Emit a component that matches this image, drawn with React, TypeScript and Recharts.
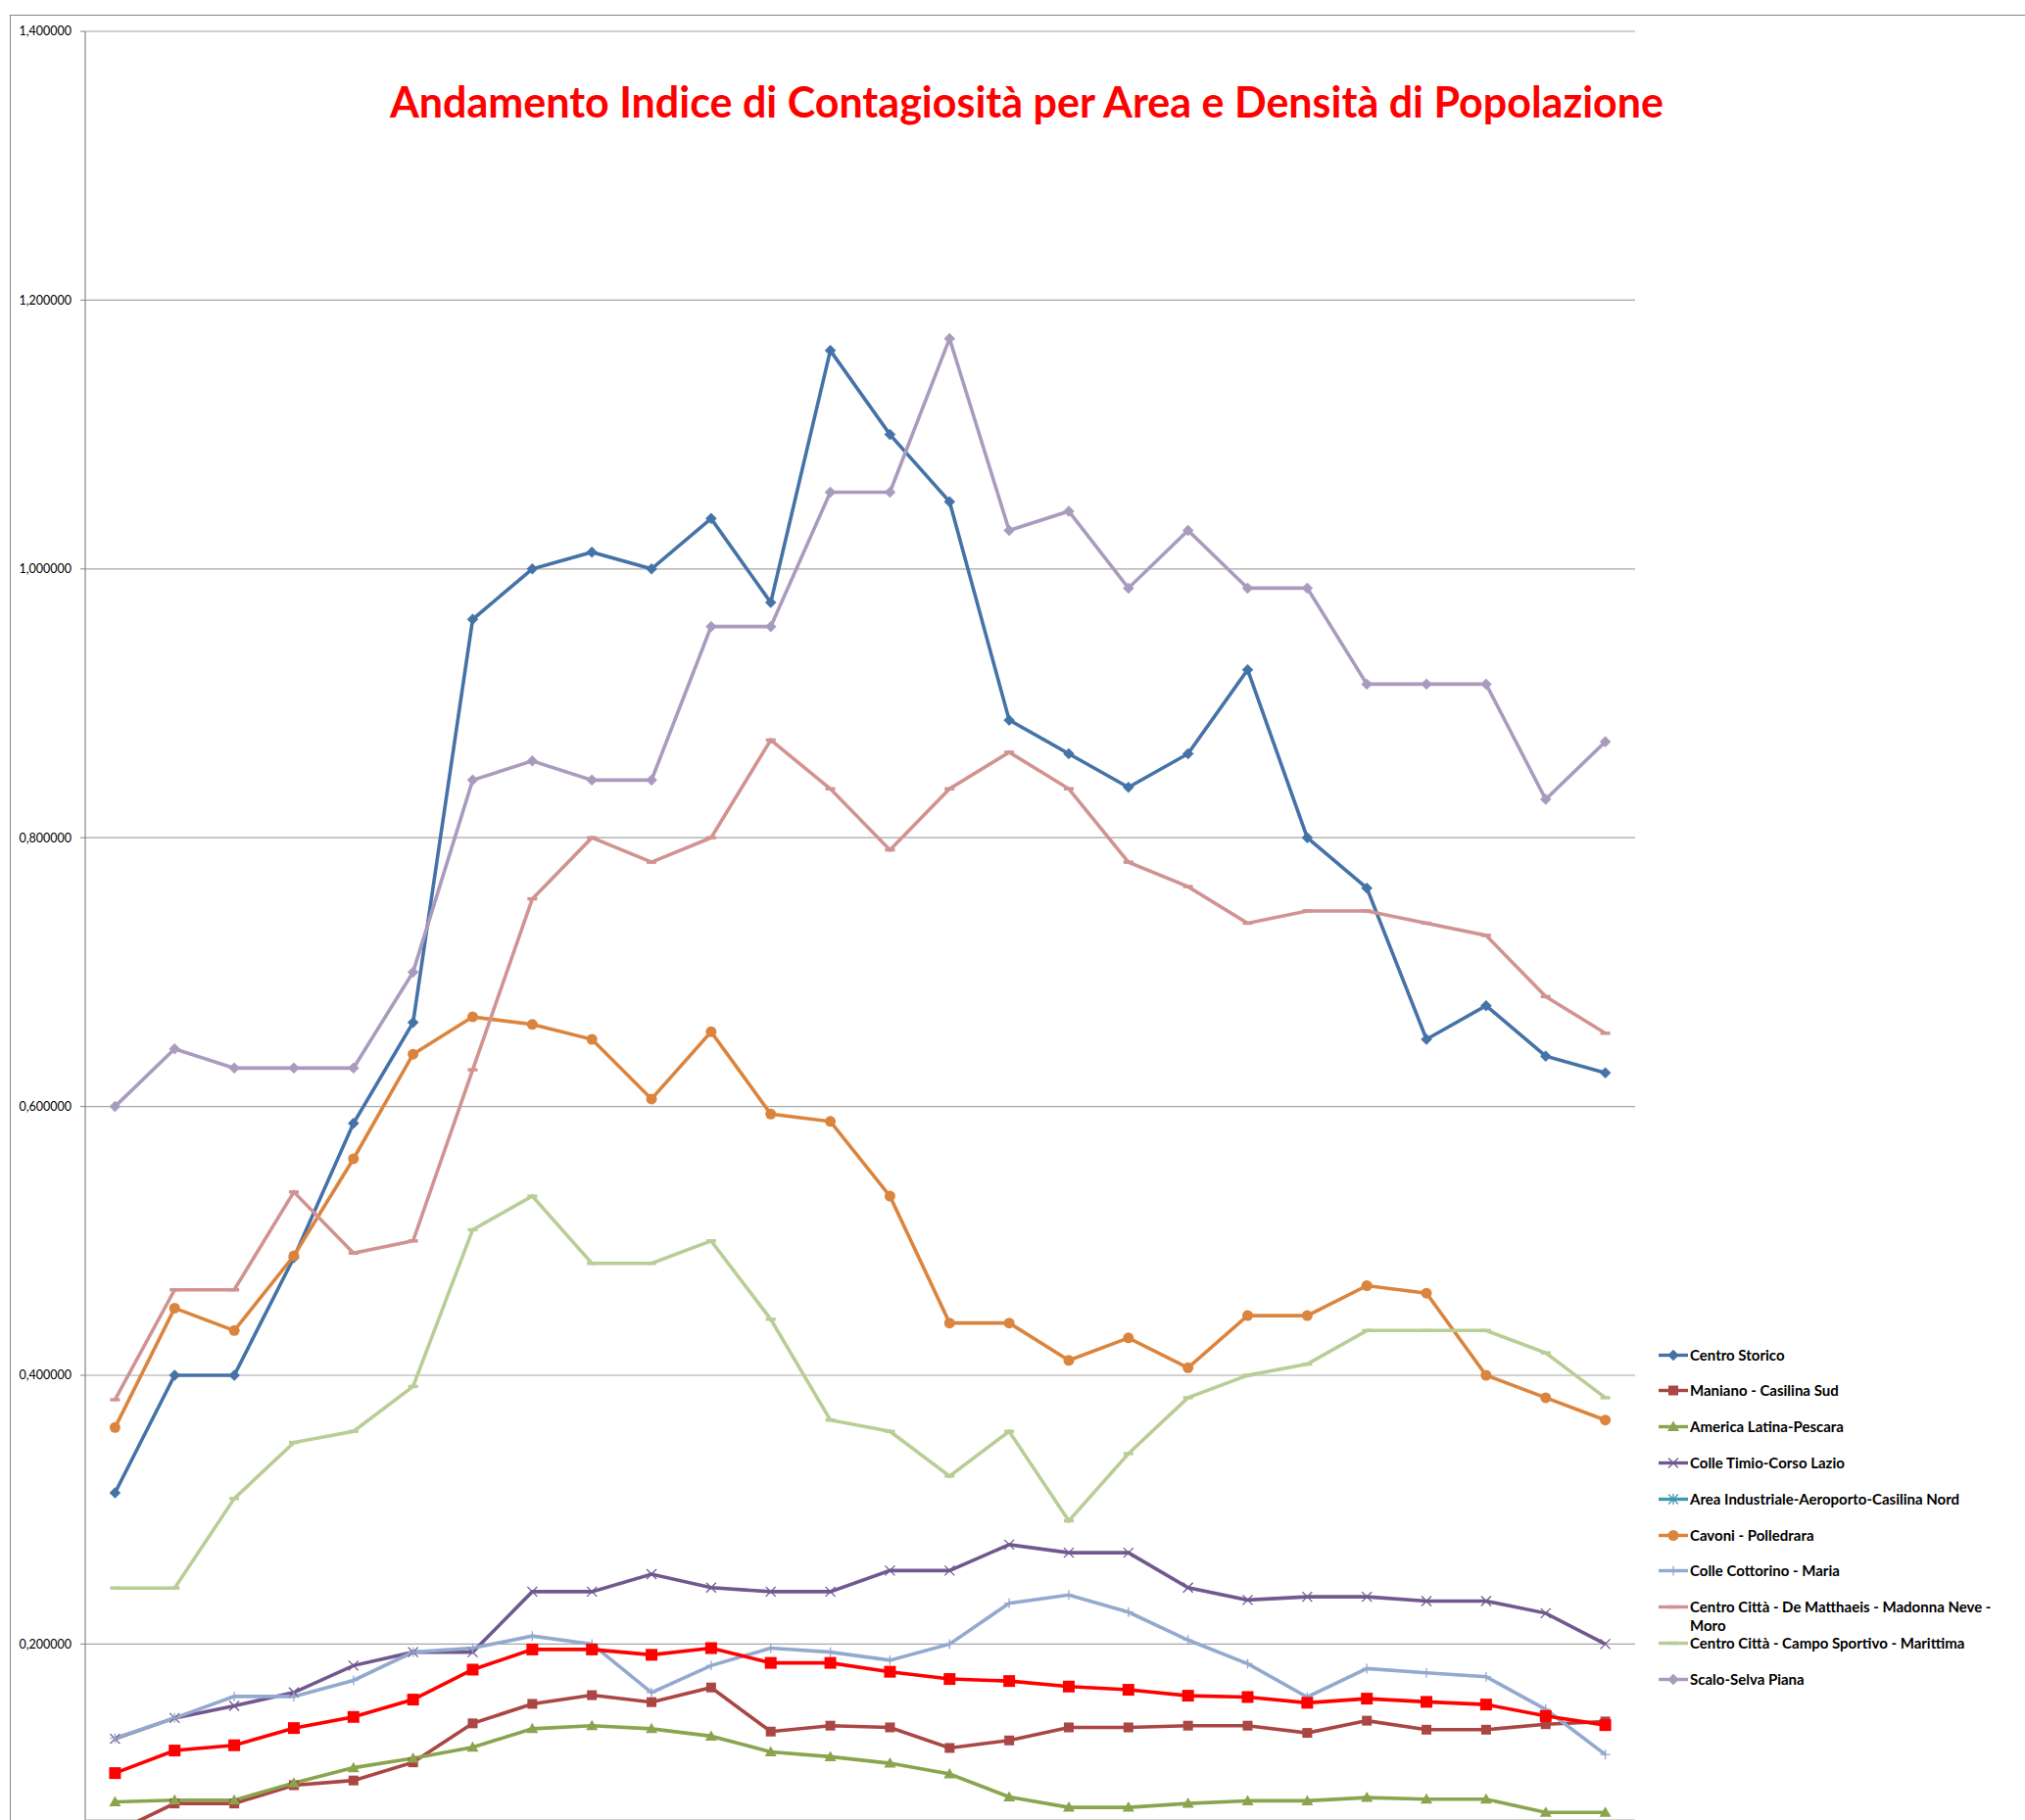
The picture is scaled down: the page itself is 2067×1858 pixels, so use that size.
import React from 'react';
import { LineChart, Line, XAxis, YAxis, CartesianGrid } from 'recharts';

const categories = ['1','2','3','4','5','6','7','8','9','10','11','12','13','14','15','16','17','18','19','20','21','22','23','24','25','26'];

const centroStorico = [0.3125, 0.4, 0.4, 0.4875, 0.5875, 0.6625, 0.9625, 1.0, 1.0125, 1.0, 1.0375, 0.975, 1.1625, 1.1, 1.05, 0.8875, 0.8625, 0.8375, 0.8625, 0.925, 0.8, 0.7625, 0.65, 0.675, 0.6375, 0.625];
const manianoCasilinaSud = [0.06, 0.0814, 0.0814, 0.095, 0.0985, 0.112, 0.141, 0.1555, 0.162, 0.1568, 0.1677, 0.1349, 0.1393, 0.138, 0.1227, 0.1283, 0.138, 0.138, 0.1393, 0.1393, 0.1339, 0.143, 0.1363, 0.1363, 0.1404, 0.1424];
const americaLatina = [0.0826, 0.0839, 0.0839, 0.0967, 0.108, 0.115, 0.1232, 0.137, 0.1393, 0.137, 0.1315, 0.1198, 0.1162, 0.1113, 0.1033, 0.0863, 0.0785, 0.0785, 0.0814, 0.0834, 0.0834, 0.0858, 0.0846, 0.0846, 0.0748, 0.0748];
const colleTimio = [0.1295, 0.145, 0.154, 0.164, 0.184, 0.194, 0.194, 0.239, 0.239, 0.252, 0.242, 0.239, 0.239, 0.2547, 0.2547, 0.274, 0.268, 0.268, 0.242, 0.2328, 0.2352, 0.2352, 0.232, 0.232, 0.223, 0.2];
const areaIndustriale = [0.03, 0.035, 0.035, 0.04, 0.04, 0.045, 0.05, 0.05, 0.05, 0.05, 0.05, 0.045, 0.045, 0.045, 0.04, 0.04, 0.04, 0.04, 0.04, 0.04, 0.04, 0.04, 0.04, 0.04, 0.035, 0.035];
const cavoniPolledrara = [0.3611, 0.45, 0.4333, 0.4889, 0.5611, 0.6389, 0.6667, 0.6611, 0.65, 0.6056, 0.6556, 0.5944, 0.5889, 0.5333, 0.4389, 0.4389, 0.4111, 0.4278, 0.4056, 0.4444, 0.4444, 0.4667, 0.4611, 0.4, 0.3833, 0.3667];
const colleCottorino = [0.13, 0.145, 0.161, 0.161, 0.173, 0.194, 0.197, 0.206, 0.2, 0.164, 0.184, 0.197, 0.194, 0.188, 0.2, 0.2304, 0.2365, 0.2238, 0.203, 0.1854, 0.1606, 0.1818, 0.1786, 0.1757, 0.1514, 0.1178];
const centroCittaDeMatthaeis = [0.3818, 0.4636, 0.4636, 0.5364, 0.4909, 0.5, 0.6273, 0.7545, 0.8, 0.7818, 0.8, 0.8727, 0.8364, 0.7909, 0.8364, 0.8636, 0.8364, 0.7818, 0.7636, 0.7364, 0.7455, 0.7455, 0.7364, 0.7273, 0.6818, 0.6545];
const centroCittaCampoSportivo = [0.2417, 0.2417, 0.3083, 0.35, 0.3583, 0.3917, 0.5083, 0.5333, 0.4833, 0.4833, 0.5, 0.4417, 0.3667, 0.3583, 0.325, 0.3583, 0.2917, 0.3417, 0.3833, 0.4, 0.4083, 0.4333, 0.4333, 0.4333, 0.4167, 0.3833];
const scaloSelvaPiana = [0.6, 0.6429, 0.6286, 0.6286, 0.6286, 0.7, 0.8429, 0.8571, 0.8429, 0.8429, 0.9571, 0.9571, 1.0571, 1.0571, 1.1714, 1.0286, 1.0429, 0.9857, 1.0286, 0.9857, 0.9857, 0.9143, 0.9143, 0.9143, 0.8286, 0.8714];
const mediaCitta = [0.104, 0.1208, 0.1247, 0.1375, 0.1458, 0.1587, 0.181, 0.196, 0.196, 0.192, 0.197, 0.186, 0.186, 0.1794, 0.174, 0.1725, 0.1684, 0.166, 0.1616, 0.1606, 0.1563, 0.1594, 0.157, 0.155, 0.1465, 0.1397];

const yTicks = [0.2, 0.4, 0.6, 0.8, 1.0, 1.2, 1.4];
const titleText = 'Andamento Indice di Contagiosità per Area e Densità di Popolazione';

type MarkerType = 'diamond' | 'square' | 'bigSquare' | 'triangle' | 'x' | 'asterisk' | 'circle' | 'plus' | 'dash' | 'none';

const SERIES: { key: string; name: string; color: string; marker: MarkerType; values: number[]; legend: boolean }[] = [
  { key: 'centroStorico', name: 'Centro Storico', color: '#4572A7', marker: 'diamond', values: centroStorico, legend: true },
  { key: 'maniano', name: 'Maniano - Casilina Sud', color: '#AA4643', marker: 'square', values: manianoCasilinaSud, legend: true },
  { key: 'america', name: 'America Latina-Pescara', color: '#89A54E', marker: 'triangle', values: americaLatina, legend: true },
  { key: 'timio', name: 'Colle Timio-Corso Lazio', color: '#71588F', marker: 'x', values: colleTimio, legend: true },
  { key: 'area', name: 'Area Industriale-Aeroporto-Casilina Nord', color: '#4198AF', marker: 'asterisk', values: areaIndustriale, legend: true },
  { key: 'cavoni', name: 'Cavoni - Polledrara', color: '#DB843D', marker: 'circle', values: cavoniPolledrara, legend: true },
  { key: 'cottorino', name: 'Colle Cottorino - Maria', color: '#93A9CF', marker: 'plus', values: colleCottorino, legend: true },
  { key: 'matthaeis', name: 'Centro Città - De Matthaeis - Madonna Neve - Moro', color: '#D19392', marker: 'dash', values: centroCittaDeMatthaeis, legend: true },
  { key: 'campo', name: 'Centro Città - Campo Sportivo - Marittima', color: '#B9CD96', marker: 'dash', values: centroCittaCampoSportivo, legend: true },
  { key: 'scalo', name: 'Scalo-Selva Piana', color: '#A99BBD', marker: 'diamond', values: scaloSelvaPiana, legend: true },
  { key: 'media', name: 'Media', color: '#FF0000', marker: 'bigSquare', values: mediaCitta, legend: false },
];

const data = categories.map((c, i) => {
  const row: Record<string, any> = { cat: c };
  SERIES.forEach((s) => { row[s.key] = s.values[i]; });
  return row;
});

function renderMarker(type: MarkerType, cx: number, cy: number, color: string, key?: string) {
  switch (type) {
    case 'diamond': {
      const r = 5.5;
      return <path key={key} d={`M${cx},${cy - r}L${cx + r},${cy}L${cx},${cy + r}L${cx - r},${cy}Z`} fill={color} stroke={color} strokeWidth={0.5} />;
    }
    case 'square':
      return <rect key={key} x={cx - 5} y={cy - 5} width={10} height={10} fill={color} />;
    case 'bigSquare':
      return <rect key={key} x={cx - 6} y={cy - 6} width={12} height={12} fill={color} />;
    case 'triangle':
      return <path key={key} d={`M${cx},${cy - 6}L${cx + 6},${cy + 4.5}L${cx - 6},${cy + 4.5}Z`} fill={color} />;
    case 'x':
      return (
        <g key={key} stroke={color} strokeWidth={1.3}>
          <line x1={cx - 5} y1={cy - 5} x2={cx + 5} y2={cy + 5} />
          <line x1={cx - 5} y1={cy + 5} x2={cx + 5} y2={cy - 5} />
        </g>
      );
    case 'asterisk':
      return (
        <g key={key} stroke={color} strokeWidth={1.3}>
          <line x1={cx - 5} y1={cy - 5} x2={cx + 5} y2={cy + 5} />
          <line x1={cx - 5} y1={cy + 5} x2={cx + 5} y2={cy - 5} />
          <line x1={cx} y1={cy - 5.5} x2={cx} y2={cy + 5.5} />
        </g>
      );
    case 'circle':
      return <circle key={key} cx={cx} cy={cy} r={5.5} fill={color} />;
    case 'plus':
      return (
        <g key={key} stroke={color} strokeWidth={1.3}>
          <line x1={cx - 5} y1={cy} x2={cx + 5} y2={cy} />
          <line x1={cx} y1={cy - 5} x2={cx} y2={cy + 5} />
        </g>
      );
    case 'dash':
      return <rect key={key} x={cx - 5} y={cy - 1.7} width={10} height={3.4} fill={color} />;
    default:
      return <g key={key} />;
  }
}

const LegendBox = () => {
  const items = SERIES.filter((s) => s.legend);
  return (
    <div style={{ position: 'absolute', left: 1693, top: 1373.5, width: 370, height: 380 }}>
      {items.map((s, i) => (
        <div
          key={s.key}
          style={{
            position: 'absolute',
            left: 0,
            top: i * 36.8,
            display: 'flex',
            alignItems: 'flex-start',
            fontFamily: 'Lato, sans-serif',
            fontWeight: 700,
            fontSize: 15,
            lineHeight: '19px',
            color: '#000',
          }}
        >
          <svg width={32} height={19} style={{ flex: 'none' }}>
            <line x1={0} y1={9.5} x2={30} y2={9.5} stroke={s.color} strokeWidth={3.4} />
            {renderMarker(s.marker, 15, 9.5, s.color)}
          </svg>
          <span style={{ width: 320, whiteSpace: 'normal' }}>{s.name}</span>
        </div>
      ))}
    </div>
  );
};

export default function App() {
  return (
    <div style={{ position: 'fixed', left: 0, top: 0, width: 2067, height: 1858, overflow: 'hidden', background: '#fff' }}>
      <div style={{ position: 'absolute', left: 10, top: 15, width: 2200, height: 2000, border: '1px solid #868686' }} />
      <div style={{ position: 'absolute', left: 0, top: 0 }}>
        <LineChart width={2067} height={1858} data={data} margin={{ top: 32, right: 398, bottom: 0, left: 0 }}>
          <CartesianGrid horizontal vertical={false} stroke="#A6A6A6" strokeWidth={1.2} />
          <XAxis dataKey="cat" hide height={0} padding={{ left: 30.4, right: 30.4 }} />
          <YAxis
            width={87}
            domain={[0.0691, 1.4]}
            allowDataOverflow
            ticks={yTicks}
            interval={0}
            tickSize={5}
            tickMargin={9}
            axisLine={{ stroke: '#868686', strokeWidth: 1.2 }}
            tickLine={{ stroke: '#868686' }}
            tick={{ fill: '#000', fontSize: 12.5, fontFamily: 'Lato, sans-serif' }}
            tickFormatter={(v: number) => v.toFixed(6).replace('.', ',')}
          />
          {SERIES.map((s) => (
            <Line
              key={s.key}
              type="linear"
              dataKey={s.key}
              name={s.name}
              stroke={s.color}
              strokeWidth={3.6}
              legendType={s.legend ? 'line' : 'none'}
              isAnimationActive={false}
              dot={(p: any) => {
                const k = `${s.key}-${p.index}`;
                if (p.cx == null || p.cy == null) return <g key={k} />;
                return renderMarker(s.marker, p.cx, p.cy, s.color, k);
              }}
              activeDot={false}
            />
          ))}
        </LineChart>
      </div>
      <LegendBox />
      <svg width={2067} height={200} style={{ position: 'absolute', left: 0, top: 0, pointerEvents: 'none' }}>
        <text x={1048} y={120} textAnchor="middle" fill="#FF0000" fontFamily="Lato, sans-serif" fontWeight={700} fontSize={43}>
          {titleText}
        </text>
      </svg>
    </div>
  );
}
